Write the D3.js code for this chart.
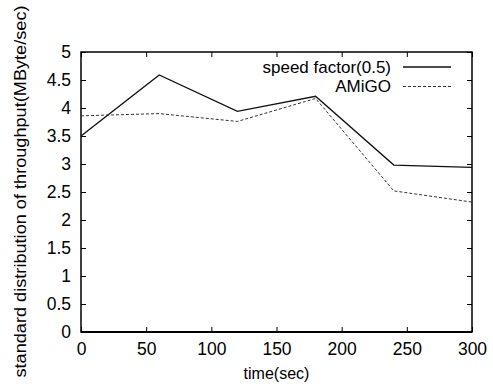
<!DOCTYPE html>
<html>
<head>
<meta charset="utf-8">
<script src="https://d3js.org/d3.v7.min.js"></script>
<style>
    body { margin: 0; background: #fff; }
    svg text { font-family: "Liberation Sans", Arial, Helvetica, sans-serif; fill: #000; }
    .axis path, .axis line { stroke: #000; }
    .axis text { font-size: 17.5px; }
</style>
</head>
<body>
<div id="chart"></div>
<script>
    // data
    const times = [0, 60, 120, 180, 240, 300];
    const speedFactor = [3.5, 4.59, 3.94, 4.21, 2.98, 2.94];
    const amigo = [3.86, 3.9, 3.76, 4.17, 2.52, 2.32];
    const seriesNames = ['speed factor(0.5)', 'AMiGO'];
    const xTicks = [0, 50, 100, 150, 200, 250, 300];
    const yTicks = [0, 0.5, 1, 1.5, 2, 2.5, 3, 3.5, 4, 4.5, 5];

    const W = 493, H = 390;
    const margin = { top: 52, right: 21, bottom: 58, left: 81 };
    const width = W - margin.left - margin.right;
    const height = H - margin.top - margin.bottom;

    const svg = d3.select('#chart').append('svg')
        .attr('width', W)
        .attr('height', H);

    const g = svg.append('g')
        .attr('transform', `translate(${margin.left},${margin.top})`);

    const x = d3.scaleLinear().domain([0, 300]).range([0, width]);
    const y = d3.scaleLinear().domain([0, 5]).range([height, 0]);
    const fmt = d3.format('~g');

    // axes with inward ticks (mirrored on top / right)
    g.append('g')
        .attr('class', 'axis')
        .attr('transform', `translate(0,${height})`)
        .call(d3.axisBottom(x).tickValues(xTicks).tickFormat(fmt).tickSize(-5).tickPadding(11).tickSizeOuter(0))
        .call(a => a.select('.domain').remove());

    g.append('g')
        .attr('class', 'axis')
        .call(d3.axisTop(x).tickValues(xTicks).tickSize(-5).tickFormat('').tickSizeOuter(0))
        .call(a => a.select('.domain').remove());

    g.append('g')
        .attr('class', 'axis')
        .call(d3.axisLeft(y).tickValues(yTicks).tickFormat(fmt).tickSize(-5).tickPadding(10).tickSizeOuter(0))
        .call(a => a.select('.domain').remove());

    g.append('g')
        .attr('class', 'axis')
        .attr('transform', `translate(${width},0)`)
        .call(d3.axisRight(y).tickValues(yTicks).tickSize(-5).tickFormat('').tickSizeOuter(0))
        .call(a => a.select('.domain').remove());

    // frame
    g.append('rect')
        .attr('width', width)
        .attr('height', height)
        .attr('fill', 'none')
        .attr('stroke', '#000')
        .attr('stroke-width', 1.5);
    g.append('line')
        .attr('x1', 0).attr('x2', width)
        .attr('y1', height).attr('y2', height)
        .attr('stroke', '#000')
        .attr('stroke-width', 2);

    const line = d3.line()
        .x((d, i) => x(times[i]))
        .y(d => y(d));

    g.append('path')
        .datum(speedFactor)
        .attr('d', line)
        .attr('fill', 'none')
        .attr('stroke', '#111')
        .attr('stroke-width', 1.4);

    g.append('path')
        .datum(amigo)
        .attr('d', line)
        .attr('fill', 'none')
        .attr('stroke', '#333')
        .attr('stroke-width', 1)
        .attr('stroke-dasharray', '3,2');

    // legend
    const legend = g.append('g');
    const styles = [
        { stroke: '#111', w: 1.4, dash: null },
        { stroke: '#333', w: 1, dash: '3,2' }
    ];
    seriesNames.forEach((name, i) => {
        const ly = 15 + i * 19.5;
        legend.append('text')
            .attr('x', 310)
            .attr('y', ly)
            .attr('dy', '0.35em')
            .attr('text-anchor', 'end')
            .style('font-size', '17px')
            .text(name);
        legend.append('line')
            .attr('x1', 322).attr('x2', 370)
            .attr('y1', ly).attr('y2', ly)
            .attr('stroke', styles[i].stroke)
            .attr('stroke-width', styles[i].w)
            .attr('stroke-dasharray', styles[i].dash);
    });

    // axis titles
    svg.append('text')
        .attr('x', margin.left + width / 2)
        .attr('y', 379)
        .attr('text-anchor', 'middle')
        .style('font-size', '16px')
        .text('time(sec)');

    svg.append('text')
        .attr('transform', `translate(26,191.5) rotate(-90)`)
        .attr('text-anchor', 'middle')
        .attr('textLength', 372)
        .attr('lengthAdjust', 'spacingAndGlyphs')
        .style('font-size', '16.5px')
        .text('standard distribution of throughput(MByte/sec)');
</script>
</body>
</html>
